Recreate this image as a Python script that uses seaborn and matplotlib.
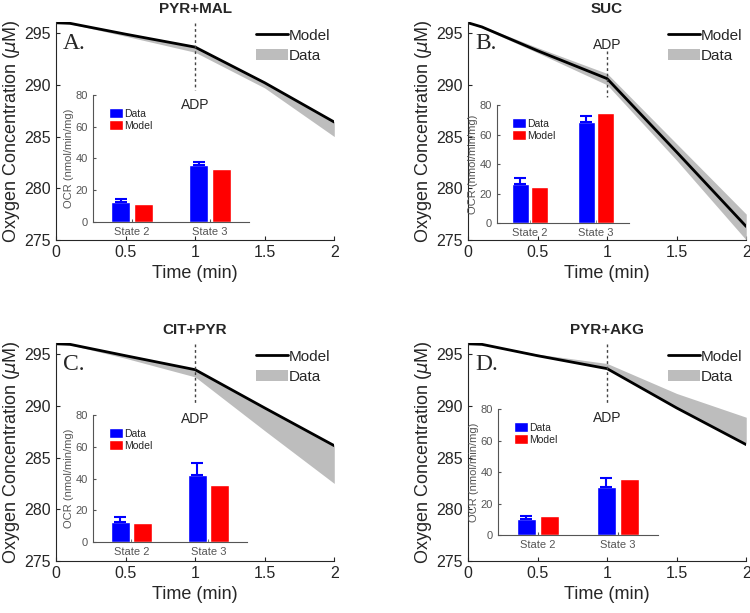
import numpy as np
import pandas as pd
import matplotlib
matplotlib.use("Agg")
import matplotlib.pyplot as plt
from matplotlib.patches import Patch
from matplotlib.lines import Line2D
import seaborn as sns

sns.set_style("ticks")
plt.rcParams["font.family"] = ["Liberation Sans", "DejaVu Sans"]

# oxygen traces
time = [0, 0.1, 0.5, 1.0, 1.5, 2.0]
titles = ["PYR+MAL", "SUC", "CIT+PYR", "PYR+AKG"]
letters = ["A.", "B.", "C.", "D."]

model_a = [296.0, 295.95, 294.9, 293.65, 290.2, 286.4]
low_a = [296.0, 295.9, 294.7, 293.15, 289.7, 285.0]
high_a = [296.0, 296.0, 294.95, 293.7, 290.25, 286.45]

model_b = [296.0, 295.6, 293.3, 290.6, 283.5, 276.3]
low_b = [296.0, 295.5, 293.1, 290.0, 282.7, 275.0]
high_b = [296.0, 295.7, 293.6, 291.1, 284.3, 277.5]

model_c = [296.0, 295.95, 294.85, 293.5, 289.8, 286.15]
low_c = [296.0, 295.9, 294.6, 292.8, 287.6, 282.5]
high_c = [296.0, 296.0, 294.9, 293.55, 289.85, 286.2]

model_d = [296.0, 295.95, 294.85, 293.6, 289.8, 286.25]
low_d = [296.0, 295.95, 294.85, 293.6, 289.85, 286.3]
high_d = [296.0, 296.0, 295.0, 294.1, 291.2, 288.9]

# OCR bars (State 2, State 3)
states = ["State 2", "State 3"]
ocr_data_a = [12.6, 35.6]
ocr_sd_a = [2.1, 2.3]
ocr_model_a = [11.5, 33.1]

ocr_data_b = [26.4, 68.5]
ocr_sd_b = [4.0, 4.3]
ocr_model_b = [24.8, 75.0]

ocr_data_c = [12.8, 42.4]
ocr_sd_c = [2.9, 7.6]
ocr_model_c = [12.2, 35.7]

ocr_data_d = [10.4, 30.2]
ocr_sd_d = [1.7, 5.8]
ocr_model_d = [12.1, 35.7]

# ADP marker: dashed segment (y from, y to) and label height
adp_line = [(296.0, 289.5), (293.3, 288.8), (296.0, 290.2), (296.0, 290.3)]
adp_text_y = [288.1, 293.9, 288.7, 288.85]

panels = [
    (model_a, low_a, high_a, ocr_data_a, ocr_sd_a, ocr_model_a),
    (model_b, low_b, high_b, ocr_data_b, ocr_sd_b, ocr_model_b),
    (model_c, low_c, high_c, ocr_data_c, ocr_sd_c, ocr_model_c),
    (model_d, low_d, high_d, ocr_data_d, ocr_sd_d, ocr_model_d),
]

main_pos = [
    [0.0747, 0.6085, 0.371, 0.356],
    [0.624, 0.6085, 0.371, 0.356],
    [0.0747, 0.0848, 0.371, 0.356],
    [0.624, 0.0848, 0.371, 0.356],
]
inset_pos = [
    [0.124, 0.638, 0.208, 0.207],
    [0.6627, 0.636, 0.176, 0.1925],
    [0.124, 0.1158, 0.205, 0.207],
    [0.664, 0.1272, 0.2133, 0.2055],
]

fig = plt.figure(figsize=(7.5, 6.13), dpi=100)

for i, (model, low, high, d, sd, m) in enumerate(panels):
    ax = fig.add_axes(main_pos[i])
    ax.fill_between(time, low, high, color="#bdbdbd", lw=0)
    sns.lineplot(x=time, y=model, ax=ax, color="black", lw=2)
    y0, y1 = adp_line[i]
    ax.plot([1, 1], [y0, y1], ls=(0, (2, 2)), color="#444444", lw=1)
    ax.text(1, adp_text_y[i], "ADP", ha="center", va="center", fontsize=10)
    ax.text(0.05, 294.0, letters[i], fontsize=17, va="center", ha="left",
            family="Liberation Serif")
    ax.set_xlim(0, 2)
    ax.set_ylim(275, 296.1)
    ax.set_xticks([0, 0.5, 1, 1.5, 2])
    ax.set_xticklabels(["0", "0.5", "1", "1.5", "2"])
    ax.set_yticks([275, 280, 285, 290, 295])
    ax.tick_params(direction="in", labelsize=11.5, length=3)
    ax.set_xlabel("Time (min)", fontsize=13)
    ax.set_ylabel(r"Oxygen Concentration ($\mu$M)", fontsize=13, labelpad=2)
    ax.set_title(titles[i], fontsize=11, fontweight="bold", pad=6)
    sns.despine(ax=ax)
    handles = [Line2D([], [], color="black", lw=2),
               Patch(facecolor="#bdbdbd", edgecolor="none")]
    ax.legend(handles, ["Model", "Data"], loc="upper right", frameon=False,
              fontsize=11, handlelength=2.1, handletextpad=0.05,
              labelspacing=0.4, bbox_to_anchor=(1.02, 1.01),
              borderaxespad=0.2)

    # inset bar chart
    ins = fig.add_axes(inset_pos[i])
    ins.patch.set_alpha(0)
    df = pd.DataFrame({
        "state": states * 2,
        "ocr": list(d) + list(m),
        "src": ["Data"] * 2 + ["Model"] * 2,
    })
    sns.barplot(df, x="state", y="ocr", hue="src", ax=ins,
                palette={"Data": "blue", "Model": "red"}, saturation=1,
                width=0.58, gap=0.15, legend=False, errorbar=None)
    bars = ins.patches[:2]
    xs = [b.get_x() + b.get_width() / 2 for b in bars]
    ins.errorbar(xs, d, yerr=[[0, 0], sd], fmt="none", ecolor="blue",
                 capsize=4, elinewidth=1.5, capthick=1.5)
    ins.set_xlim(-0.5, 1.5)
    ins.set_ylim(0, 80)
    ins.set_yticks([0, 20, 40, 60, 80])
    ins.set_xlabel("")
    ins.set_ylabel("OCR (nmol/min/mg)", fontsize=8, color="#555555", labelpad=1)
    ins.tick_params(direction="in", labelsize=8, colors="#555555", length=2)
    for s in ["left", "bottom"]:
        ins.spines[s].set_color("#555555")
    sns.despine(ax=ins)
    ih = [Patch(facecolor="blue"), Patch(facecolor="red")]
    ins.legend(ih, ["Data", "Model"], loc="upper left", frameon=False,
               fontsize=7.5, handlelength=1.4, handleheight=1.1,
               handletextpad=0.05, labelspacing=0.15,
               bbox_to_anchor=(0.04, 0.97))

fig.savefig("out.png", dpi=100)
